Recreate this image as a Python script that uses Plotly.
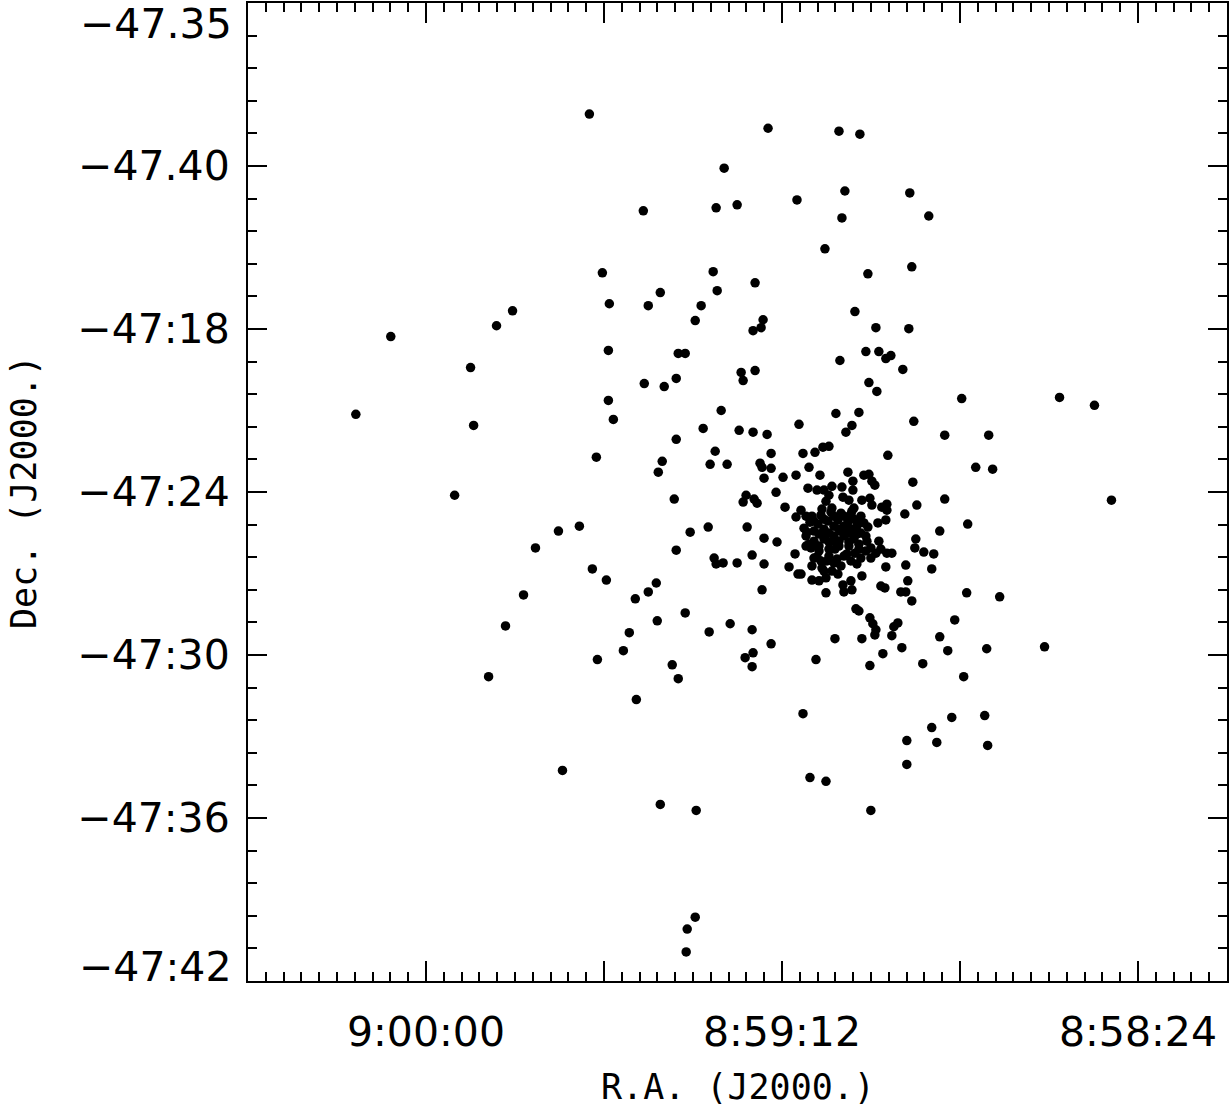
import plotly.graph_objects as go

# RA in seconds of time past 8:58:00 (J2000); 120 = 9:00:00
ra_sec = [
    97.97, 73.88, 64.32, 61.50, 79.80, 54.77, 63.52, 69.98, 78.05, 80.88, 90.70, 63.92, 52.21, 66.21,
    96.22, 81.28, 60.42, 54.50, 75.63, 88.41, 80.74, 95.28, 90.03, 82.90, 108.33, 110.49, 124.75, 83.70,
    62.17, 74.55, 74.82, 75.90, 59.34, 54.90, 95.41, 85.99, 85.05, 64.19, 60.69, 58.94, 58.00, 57.32,
    113.99, 77.51, 77.24, 75.63, 55.71, 86.26, 90.57, 87.88, 60.28, 59.21, 129.46, 113.58, 95.41, 94.74,
    34.58, 29.87, 47.77,
    80.20, 64.73, 61.63, 54.23, 69.71, 62.57, 63.38, 74.01, 50.06, 82.63, 77.78, 75.90, 86.26, 81.01,
    73.47, 69.17, 67.55, 66.48, 65.67, 57.73, 88.15, 81.69, 79.40, 74.96, 74.69, 73.47, 68.36, 44.13,
    45.88, 43.60, 97.03,
    88.68, 74.42, 71.86, 70.11, 66.88, 63.11, 60.96, 60.28, 62.44, 59.88, 59.48, 54.36, 68.50, 67.28,
    66.34, 65.27, 63.92, 62.44, 72.80, 86.53, 76.84, 77.24, 75.76, 75.36, 71.59, 69.44, 65.67, 63.78,
    62.98, 61.23, 60.15, 59.88, 50.06, 66.07, 53.82, 58.54, 57.86, 57.86, 65.27, 66.61, 62.30, 62.57,
    116.14, 27.58,
    70.11, 68.76, 67.96, 55.44, 58.00, 59.07, 46.96, 50.73, 53.96, 54.09, 52.88, 51.54, 81.95, 84.38,
    76.70, 69.03, 68.76, 74.42, 72.67, 68.76, 68.09, 86.26, 70.24, 81.15, 76.03, 80.88, 79.94, 78.05,
    74.42, 71.05, 69.84, 67.69, 66.75, 67.96, 66.61, 64.99, 64.05, 62.71, 61.90, 61.36, 60.69, 60.69,
    61.90, 60.02, 58.94, 58.67, 57.86, 57.19, 59.34, 60.02, 55.31, 51.81, 58.00, 102.14, 99.32, 105.24,
    97.57,
    69.44, 67.96, 67.01, 66.34, 66.07, 65.27, 64.46, 62.71, 63.78, 63.65, 62.57, 61.23, 66.07, 58.67,
    58.13, 55.04, 55.98, 55.31, 54.50, 47.10, 42.65, 74.69, 88.95, 90.03, 95.68, 91.78, 85.05, 88.82,
    78.99, 81.82, 76.03, 73.47, 76.97, 75.90, 76.03, 86.80, 85.99, 91.64, 92.59, 93.39, 96.89, 62.03,
    61.63, 60.15, 59.75, 59.34, 59.48, 56.38, 56.92, 57.19, 48.71, 50.73, 64.86, 61.23, 55.84, 58.40,
    49.65, 44.40, 67.42, 60.15, 53.02, 47.50, 36.60, 111.56, 109.28, 106.85,
    69.17, 49.11, 51.81, 51.13, 55.17, 55.17, 44.67, 44.27, 101.60, 68.23, 66.07, 60.02, 88.41, 83.57,
    83.70, 84.78, 84.92,
]

# Dec in arcminutes south of -47:00 (J2000)
dec_arcmin = [
    10.09, 10.61, 10.72, 10.83, 12.08, 12.99, 12.92, 13.25, 13.43, 13.54, 13.65, 13.91, 13.84, 15.05,
    15.93, 15.89, 15.97, 15.71, 16.30, 16.66, 16.59, 17.07, 17.14, 17.14, 17.33, 17.88, 18.28, 17.69,
    17.36, 17.66, 17.95, 18.06, 17.95, 17.99, 18.79, 18.90, 18.90, 19.16, 18.83, 18.83, 19.09, 18.98,
    19.42, 19.60, 19.90, 19.53, 19.49, 19.82, 20.01, 20.12, 19.97, 20.30, 21.14, 21.55, 20.63, 21.33,
    20.52, 20.81, 20.56,
    21.00, 21.11, 21.07, 21.40, 21.51, 21.55, 21.80, 21.88, 21.91, 21.66, 21.73, 21.80, 22.06, 22.50,
    22.58, 22.58, 22.54, 22.35, 22.32, 22.65, 22.87, 22.98, 22.98, 22.94, 23.09, 23.13, 23.09, 21.91,
    23.09, 23.16, 22.72,
    23.27, 23.49, 23.46, 23.38, 23.38, 23.27, 23.38, 23.35, 23.60, 23.60, 23.75, 23.64, 23.86, 23.93,
    23.93, 23.79, 23.82, 23.93, 24.01, 24.26, 24.12, 24.37, 24.26, 24.41, 24.56, 24.67, 24.12, 24.19,
    24.30, 24.30, 24.23, 24.48, 24.26, 24.34, 24.48, 24.56, 24.45, 24.67, 24.59, 24.63, 24.59, 24.70,
    24.12, 24.30,
    24.92, 24.89, 24.89, 24.81, 25.03, 25.14, 25.18, 25.44, 25.73, 26.06, 26.21, 26.28, 25.29, 25.48,
    25.29, 25.33, 25.62, 25.70, 25.84, 25.99, 26.06, 26.14, 26.28, 26.43, 26.32, 26.65, 26.61, 26.61,
    26.65, 26.76, 27.02, 26.43, 26.54, 26.72, 26.80, 26.61, 26.72, 26.54, 26.65, 26.43, 26.17, 25.62,
    25.26, 26.06, 25.81, 26.10, 26.25, 26.25, 26.25, 26.43, 26.69, 26.83, 26.76, 25.44, 25.26, 26.06,
    26.83,
    27.02, 27.24, 27.27, 26.91, 27.16, 26.91, 27.02, 27.27, 27.42, 27.68, 27.60, 27.09, 27.71, 27.46,
    27.53, 27.27, 27.68, 27.68, 28.01, 27.71, 27.86, 27.60, 27.35, 27.68, 27.24, 27.93, 28.45, 28.74,
    28.85, 29.15, 29.07, 29.59, 30.10, 29.92, 30.43, 30.36, 30.87, 31.64, 29.18, 29.84, 30.17, 28.30,
    28.38, 28.63, 28.85, 29.07, 29.26, 28.82, 28.96, 29.29, 28.71, 29.33, 29.40, 29.40, 29.73, 29.95,
    29.84, 29.77, 30.17, 30.39, 30.32, 30.80, 29.70, 30.80, 28.93, 27.79,
    32.16, 32.30, 32.67, 33.22, 33.15, 34.03, 32.23, 33.33, 34.25, 34.51, 34.65, 35.72, 35.50, 35.72,
    39.65, 40.09, 40.93,
]

# Dense cluster core (heavily overlapping sources)
ra_core = [
    67.69, 66.34, 64.99, 63.65, 62.30, 60.96, 67.69, 66.34, 64.99, 63.65, 62.30, 61.36, 67.69, 66.34,
    64.99, 63.65, 62.30, 67.01, 65.67, 64.32, 62.98, 61.63, 65.67, 63.65, 64.99, 64.05, 62.98,
    66.75, 65.40, 64.05, 62.71, 61.36, 68.23, 67.15, 65.80, 64.46, 63.11, 61.77, 60.42, 68.63, 67.01,
    65.67, 64.32, 62.98, 61.90, 60.55, 68.36, 67.01, 65.67, 64.32, 62.98, 61.63, 67.28, 65.94, 64.59,
    63.25, 62.17, 66.21, 64.86,
]
dec_core = [
    25.07, 25.00, 24.89, 24.89, 25.00, 25.14, 25.44, 25.37, 25.26, 25.26, 25.37, 25.51, 25.81, 25.73,
    25.62, 25.62, 25.73, 26.17, 26.10, 25.99, 25.99, 26.10, 26.36, 26.36, 25.81, 25.44, 25.51,
    24.85, 24.74, 24.78, 24.81, 24.89, 25.11, 25.18, 25.07, 25.03, 25.11, 25.14, 25.29, 25.48, 25.55,
    25.51, 25.37, 25.33, 25.55, 25.81, 25.92, 25.99, 25.84, 25.81, 25.84, 25.92, 26.39, 26.54, 26.47,
    26.28, 26.25, 25.62, 26.10,
]

x_tick_vals = [144, 120, 96, 72, 48, 24]
x_tick_text = ["", "9:00:00", "", "8:59:12", "", "8:58:24"]
y_tick_vals = [-42, -36, -30, -24, -18, -12, -6]
y_tick_text = ["", "\u221247:36", "\u221247:30", "\u221247:24", "\u221247:18", "\u221247.40", ""]
y_top_label = "\u221247.35"
y_bottom_label = "\u221247:42"
x_title = "R.A. (J2000.)"
y_title = "Dec. (J2000.)"

FONT = "DejaVu Sans"
tickfont = dict(family=FONT, size=41, color="black")
titlefont = dict(family="DejaVu Sans Mono", size=35, color="black")

all_ra = ra_sec + ra_core
all_dec = dec_arcmin + dec_core

fig = go.Figure(
    go.Scatter(
        x=all_ra,
        y=[-d for d in all_dec],
        mode="markers",
        marker=dict(size=9.5, color="black", line=dict(width=0)),
        hoverinfo="skip",
    )
)

axis_common = dict(
    showgrid=False, zeroline=False, showline=True, linewidth=2, linecolor="black",
    mirror="ticks", ticks="inside", tickwidth=2, tickcolor="black", tickfont=tickfont,
    tickmode="array",
)

fig.update_xaxes(
    range=[144, 12], tickvals=x_tick_vals, ticktext=x_tick_text, ticklen=20,
    ticklabelstandoff=14,
    minor=dict(tick0=0, dtick=2.4, ticks="inside", ticklen=9, tickwidth=2, tickcolor="black", showgrid=False),
    **axis_common,
)
fig.update_yaxes(
    range=[-42, -6], tickvals=y_tick_vals, ticktext=y_tick_text, ticklen=19,
    ticklabelstandoff=8,
    minor=dict(tick0=-42, dtick=1.2, ticks="inside", ticklen=9, tickwidth=2, tickcolor="black", showgrid=False),
    **axis_common,
)

annotations = [
    dict(text=y_top_label, xref="paper", x=0, xanchor="right", xshift=-14,
         yref="y", y=-6, yanchor="middle", yshift=-21, showarrow=False, font=tickfont),
    dict(text=y_bottom_label, xref="paper", x=0, xanchor="right", xshift=-14,
         yref="y", y=-42, yanchor="middle", yshift=14, showarrow=False, font=tickfont),
    dict(text=x_title, xref="paper", x=0.5, xanchor="center", yref="paper", y=0,
         yanchor="middle", yshift=-106, showarrow=False, font=titlefont),
    dict(text=y_title, xref="paper", x=0, xanchor="center", xshift=-224, yref="paper", y=0.5,
         yanchor="middle", textangle=-90, showarrow=False, font=titlefont),
]

fig.update_layout(
    width=1230, height=1110,
    margin=dict(l=248, r=3, t=1, b=129, pad=0),
    paper_bgcolor="white", plot_bgcolor="white",
    showlegend=False, annotations=annotations,
)

fig.write_html(
    "out.html",
    config={"displayModeBar": False},
    post_script="document.body.style.margin='0px';",
)
